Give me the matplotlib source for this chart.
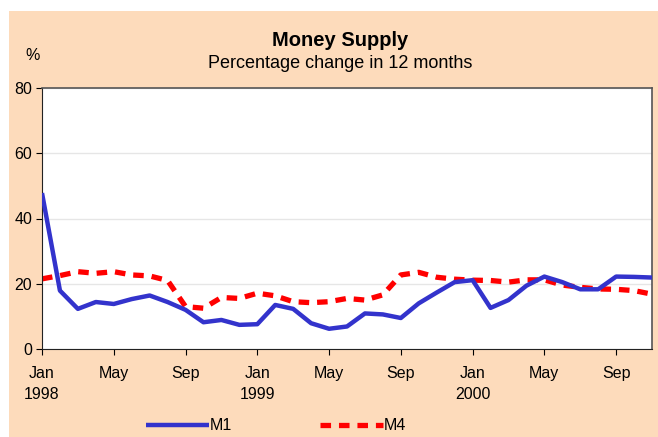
import matplotlib.pyplot as plt
from matplotlib.patches import Rectangle

plt.rcParams["font.family"] = ["Liberation Sans", "DejaVu Sans"]

months = list(range(35))  # Jan 1998 .. Nov 2000
m1 = [47.8, 17.9, 12.3, 14.4, 13.8, 15.3, 16.4, 14.4, 12.0, 8.2, 8.9, 7.4,
      7.6, 13.5, 12.3, 7.9, 6.2, 6.9, 10.9, 10.6, 9.5, 14.0, 17.3, 20.5,
      21.1, 12.6, 15.0, 19.4, 22.2, 20.5, 18.3, 18.3, 22.2, 22.1, 21.9]
m4 = [21.5, 22.5, 23.7, 23.2, 23.7, 22.7, 22.4, 21.0, 13.0, 12.5, 15.8, 15.5,
      17.1, 16.3, 14.5, 14.2, 14.5, 15.5, 15.0, 16.6, 22.7, 23.5, 22.0, 21.4,
      21.1, 21.0, 20.5, 21.2, 21.2, 19.6, 18.9, 18.4, 18.3, 17.9, 16.8]
tick_pos = [0, 4, 8, 12, 16, 20, 24, 28, 32]
tick_labels = ["Jan\n1998", "May", "Sep", "Jan\n1999", "May", "Sep",
               "Jan\n2000", "May", "Sep"]

fig = plt.figure(figsize=(6.58, 4.37), dpi=100, facecolor="white")
fig.patches.append(Rectangle((9 / 658, 0), 1, 1 - 11 / 437, transform=fig.transFigure,
                             facecolor="#FDDBBB", edgecolor="none", zorder=-10))
ax = fig.add_axes([42 / 658, 1 - 349 / 437, 610 / 658, 261 / 437])
ax.set_facecolor("white")

ax.plot(months, m1, color="#3333CC", lw=3.2, label="M1", solid_capstyle="butt", zorder=3)
ax.plot(months, m4, color="#FF0000", lw=3.8, linestyle=(0, (2.0, 1.5)),
        dash_capstyle="butt", label="M4", zorder=2)

ax.set_xlim(0, 34)
ax.set_ylim(0, 80)
ax.set_yticks([0, 20, 40, 60, 80])
ax.set_xticks(tick_pos)
ax.set_xticklabels(tick_labels, fontsize=11.5, linespacing=1.55)
ax.tick_params(axis="y", labelsize=11.5, length=4, direction="out", pad=3)
ax.tick_params(axis="x", length=4, direction="out", pad=8)
ax.grid(axis="y", color="#E6E6E6", lw=1)
ax.set_axisbelow(True)
for s in ["left", "bottom"]:
    ax.spines[s].set_color("#222222")
for s in ["top", "right"]:
    ax.spines[s].set_color("#555555")
    ax.spines[s].set_linewidth(1.2)

fig.text(0.517, 1 - 40 / 437, "Money Supply", ha="center", va="center",
         fontsize=14.5, fontweight="bold")
fig.text(0.517, 1 - 64 / 437, "Percentage change in 12 months", ha="center",
         va="center", fontsize=13)
fig.text(33 / 658, 1 - 55 / 437, "%", ha="center", va="center", fontsize=11.5)

fig.legend(loc="center", bbox_to_anchor=(0.42, 1 - 426 / 437), ncol=2,
           frameon=False, fontsize=11.5, handlelength=3.9, handletextpad=0.1,
           columnspacing=5.5)

fig.savefig("out.png", dpi=100, facecolor=fig.get_facecolor())
